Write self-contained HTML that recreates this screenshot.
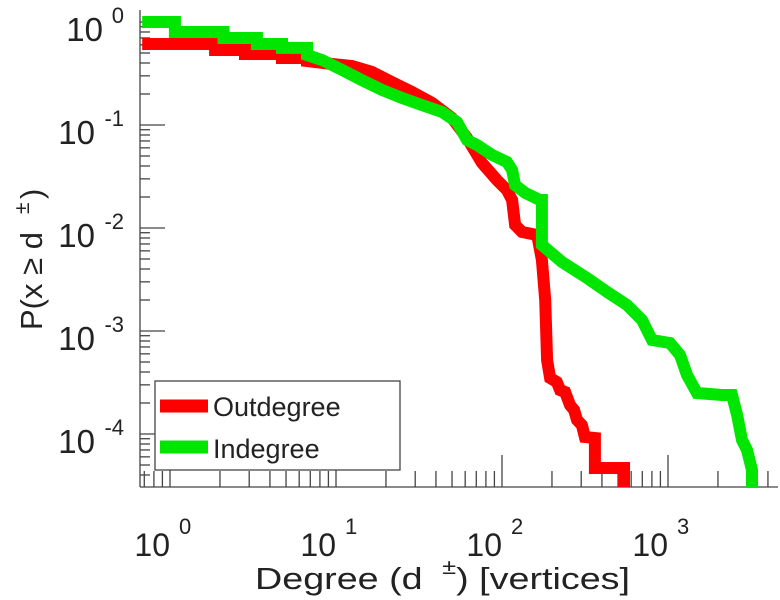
<!DOCTYPE html>
<html><head><meta charset="utf-8"><style>
body{margin:0;background:#fff;position:relative;width:780px;height:600px;overflow:hidden;}
svg{display:block;font-family:"Liberation Sans",Arial,sans-serif;}
</style></head><body>
<svg id="chart" width="780" height="600" viewBox="0 0 780 600"></svg>
<script>
const xTickExps=[0,1,2,3];
const yTickExps=[0,-1,-2,-3,-4];
const outX=[0.68,1.87,1.87,2.83,2.83,4.73,4.73,6.69,6.69,9.46,12.5,16.5,21.7,28.7,37.9,50.0,61.5,75.8,93.3,107,115,120,132,163,174,182,187,195,214,224,240,257,272,283,303,316,363,363,543,543];
const outY=[0.611,0.611,0.535,0.535,0.489,0.489,0.447,0.447,0.418,0.391,0.374,0.327,0.261,0.209,0.164,0.117,0.0748,0.0428,0.0292,0.0234,0.0187,0.0107,0.00914,0.00855,0.00489,0.002,0.000522,0.00035,0.00032,0.000267,0.000256,0.000191,0.000171,0.000137,0.000122,0.0000935,0.0000914,0.0000468,0.0000468,0.00002];
const inX=[0.68,1.07,1.07,2.1,2.1,3.34,3.34,4.73,4.73,6.69,6.69,8.24,10.9,14.3,18.9,25.0,33.0,43.5,53.6,61.5,70.6,87.1,107,115,120,138,169,174,174,230,325,430,566,697,801,1028,1181,1301,1496,2115,2430,2606,2793,2993,3206,3206];
const inY=[1,1,0.80,0.80,0.70,0.70,0.611,0.611,0.56,0.56,0.478,0.428,0.342,0.273,0.219,0.183,0.156,0.134,0.107,0.0715,0.064,0.0512,0.0437,0.0366,0.0261,0.0219,0.0187,0.0187,0.00684,0.00468,0.00327,0.00239,0.00179,0.00128,0.000818,0.000764,0.000585,0.000374,0.00025,0.000239,0.000239,0.000153,0.0000875,0.00007,0.0000447,0.00002];

const NS="http://www.w3.org/2000/svg";
const svg=document.getElementById('chart');
const L=140,R=778,T=5,B=487;
const x0=170,dx=166,y0=22,dy=103;
function sx(v){return x0+Math.log10(v)*dx;}
function sy(v){return y0-Math.log10(v)*dy;}
function mk(tag,attrs,parent){const e=document.createElementNS(NS,tag);for(const k in attrs)e.setAttribute(k,attrs[k]);(parent||svg).appendChild(e);return e;}

const defs=mk('defs',{});
const cp=mk('clipPath',{id:'plotclip'},defs);
mk('rect',{x:L,y:T,width:R-L,height:B-T},cp);

const axes=mk('g',{stroke:'#444','stroke-width':1.3});


mk('line',{x1:L,y1:T+5,x2:L,y2:B},axes);
mk('line',{x1:L,y1:B,x2:R,y2:B},axes);
for(let e=-1;e<=3;e++){for(let k=1;k<10;k++){const v=k*Math.pow(10,e);const px=sx(v);if(px<L||px>R)continue;
 const len=k===1?32:16;mk('line',{x1:px,y1:B,x2:px,y2:B-len},axes);}}
for(let e=-5;e<=0;e++){for(let k=1;k<10;k++){const v=k*Math.pow(10,e);const py=sy(v);if(py<T+5||py>B)continue;
 const len=k===1?25:10;mk('line',{x1:L,y1:py,x2:L+len,y2:py},axes);}}

xTickExps.forEach(e=>{const px=sx(Math.pow(10,e));
 const t=mk('text',{x:px,y:556,'font-size':32,fill:'#222','text-anchor':'end'});
 t.textContent='10';
 
 
 const s=mk('text',{x:px+9,y:534,'font-size':22,fill:'#222'});s.textContent=String(e);});
yTickExps.forEach(e=>{const py=sy(Math.pow(10,e));
 const s=mk('text',{x:124,y:py+1,'font-size':22,fill:'#222','text-anchor':'end'});s.textContent=String(e);
 const ew=e===0?12:20;
 const t=mk('text',{x:124-ew-9,y:py+19,'font-size':33,fill:'#222','text-anchor':'end'});
 t.textContent='10';
 
 });

function series(xs,ys,color,name){const pts=xs.map((v,i)=>sx(v).toFixed(1)+','+sy(ys[i]).toFixed(1)).join(' ');
 const p=mk('polyline',{points:pts,fill:'none',stroke:color,'stroke-width':12,'stroke-linejoin':'miter','clip-path':'url(#plotclip)'});
 
 }
series(outX,outY,'#ff0000','outdegree-line');
series(inX,inY,'#00e600','indegree-line');
</script>
<svg style="position:absolute;left:0;top:0" width="780" height="600">
<g>
<rect x="155" y="381" width="245" height="89" fill="#fff" stroke="#444" stroke-width="1.3"/>
<line x1="160" y1="406" x2="208" y2="406" stroke="#ff0000" stroke-width="13"/>
<text x="213" y="416" font-size="27" fill="#222" font-family="Liberation Sans, sans-serif">Outdegree</text>
<line x1="160" y1="447" x2="208" y2="447" stroke="#00e600" stroke-width="13"/>
<text x="213" y="458" font-size="27" fill="#222" font-family="Liberation Sans, sans-serif">Indegree</text>
</g>
<text x="255" y="589" font-size="31" textLength="375" lengthAdjust="spacingAndGlyphs" fill="#222" font-family="Liberation Sans, sans-serif">Degree (d<tspan dx="16" dy="-15" font-size="21">±</tspan><tspan dy="15">) [vertices]</tspan></text>
<g transform="translate(42,330) rotate(-90)">
<text x="0" y="0" font-size="31" fill="#222" font-family="Liberation Sans, sans-serif">P(x ≥ d</text>
<text x="116" y="-13" font-size="21" fill="#222" font-family="Liberation Sans, sans-serif">±</text>
<text x="131" y="0" font-size="31" fill="#222" font-family="Liberation Sans, sans-serif">)</text>
</g>
</svg>
</body></html>
